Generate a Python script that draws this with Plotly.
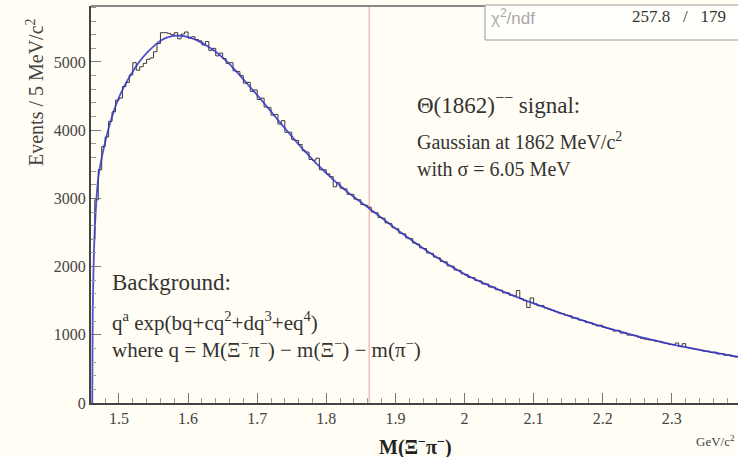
import plotly.graph_objects as go

# ---------------- data ----------------
HIST_LO = 1.46      # GeV/c^2, first bin edge
HIST_W = 0.005      # 5 MeV bins
HIST_COUNTS = [
    2400, 2980, 3420, 3760, 3900, 4130, 4270, 4440, 4470, 4640,
    4700, 4810, 4990, 4880, 4930, 4980, 5040, 5060, 5150, 5270,
    5430, 5430, 5420, 5400, 5430, 5340, 5410, 5440, 5350, 5370,
    5330, 5310, 5250, 5300, 5170, 5200, 5090, 5130, 5050, 4980,
    4990, 4870, 4860, 4800, 4690, 4700, 4570, 4590, 4450, 4470,
    4340, 4330, 4220, 4230, 4090, 4140, 3970, 3970, 3860, 3850,
    3790, 3700, 3680, 3570, 3560, 3590, 3420, 3420, 3360, 3320,
    3170, 3230, 3150, 3140, 3060, 3060, 2990, 2980, 2910, 2900,
    2870, 2800, 2790, 2720, 2710, 2640, 2630, 2570, 2555, 2490,
    2480, 2420, 2410, 2345, 2330, 2275, 2265, 2200, 2195, 2140,
    2130, 2075, 2070, 2010, 2005, 1950, 1945, 1895, 1885, 1840,
    1840, 1795, 1790, 1745, 1745, 1700, 1700, 1660, 1655, 1615,
    1615, 1580, 1570, 1650, 1530, 1500, 1400, 1540, 1455, 1425,
    1430, 1395, 1380, 1360, 1340, 1320, 1310, 1285, 1280, 1245,
    1245, 1215, 1210, 1180, 1175, 1150, 1130, 1140, 1110, 1095,
    1080, 1055, 1065, 1025, 1025, 995, 995, 985, 965, 945,
    935, 925, 925, 905, 900, 885, 875, 860, 855, 880,
    830, 870, 815, 805, 795, 785, 775, 760, 760, 740,
    745, 720, 725, 700, 705, 685, 675, 680, 660, 650,
]

FIT_X = [1.4613, 1.462, 1.463, 1.465] + [round(1.47 + 0.01 * i, 2) for i in range(95)]
FIT_Y = [
    0, 1300, 1900, 2550,
    3300, 3830, 4200, 4480, 4690, 4860, 5010, 5130, 5230, 5310,
    5360, 5385, 5385, 5365, 5330, 5280, 5220, 5150, 5065, 4970,
    4860, 4745, 4630, 4515, 4395, 4275, 4150, 4030, 3910, 3790,
    3680, 3570, 3470, 3370, 3275, 3185, 3100, 3020, 2945, 2868,
    2792, 2716, 2638, 2560, 2485, 2412, 2340, 2270, 2200, 2135,
    2070, 2008, 1948, 1890, 1840, 1792, 1746, 1702, 1660, 1618,
    1577, 1537, 1498, 1460, 1423, 1387, 1351, 1315, 1280, 1247,
    1214, 1182, 1151, 1120, 1091, 1063, 1035, 1007, 980, 955,
    930, 906, 883, 860, 839, 818, 798, 779, 760, 742,
    724, 706, 688, 670, 655,
]

SIGNAL_MASS = 1.862
CHI2 = "257.8"
NDF = "179"

# ---------------- figure ----------------
edges = [HIST_LO + HIST_W * i for i in range(len(HIST_COUNTS) + 1)]
step_y = HIST_COUNTS + [HIST_COUNTS[-1]]

SERIF = "Liberation Serif"
BG = "#fffdf4"

fig = go.Figure()
fig.add_trace(go.Scatter(
    x=edges, y=step_y, mode="lines", line=dict(shape="hv", color="#3a3a3a", width=1),
    hoverinfo="skip", showlegend=False))
fig.add_trace(go.Scatter(
    x=FIT_X, y=FIT_Y, mode="lines",
    line=dict(shape="spline", smoothing=0.6, color="rgba(50,50,200,0.85)", width=1.8),
    hoverinfo="skip", showlegend=False))

W, H = 738, 457
L, R, T, B = 91, 0, 6, 54
pw, ph = W - L - R, H - T - B

def px(x):
    return (x - L) / pw

def py(y):
    return (H - B - y) / ph

fig.update_layout(
    width=W, height=H, autosize=False,
    margin=dict(l=L, r=R, t=T, b=B, pad=0),
    paper_bgcolor=BG, plot_bgcolor=BG,
    font=dict(family=SERIF, color="#333"),
    xaxis=dict(
        range=[1.4595, 2.3958], showgrid=False, zeroline=False,
        showline=True, linecolor="#444", linewidth=2,
        ticks="inside", ticklen=10, tickwidth=1, tickcolor="#777",
        tick0=1.5, dtick=0.1,
        minor=dict(ticks="inside", ticklen=5, dtick=0.02, tickcolor="#999", tickwidth=1),
        tickfont=dict(family=SERIF, size=16, color="#444"),
    ),
    yaxis=dict(
        range=[0, 5821], showgrid=False, zeroline=False,
        showline=True, linecolor="#444", linewidth=2,
        ticks="inside", ticklen=10, tickwidth=1, tickcolor="#777",
        tick0=0, dtick=1000, tickformat="d",
        minor=dict(ticks="inside", ticklen=5, dtick=200, tickcolor="#999", tickwidth=1),
        tickfont=dict(family=SERIF, size=16, color="#444"),
    ),
)

shapes = [
    dict(type="line", xref="x", yref="paper", x0=SIGNAL_MASS, x1=SIGNAL_MASS, y0=0, y1=1,
         line=dict(color="#e8a0a0", width=1), layer="below"),
    dict(type="line", xref="paper", yref="paper", x0=0, x1=1.0, y0=1, y1=1,
         line=dict(color="#888", width=2)),
    dict(type="rect", xref="paper", yref="paper", x0=px(485), x1=px(745), y0=py(40), y1=py(5),
         fillcolor="#fffffb", line=dict(color="#999", width=1), layer="above"),
]
fig.update_layout(shapes=shapes)

ann = []
def txt(x, y, s, size, xanchor="left", color="#333", family=SERIF, angle=0):
    ann.append(dict(xref="paper", yref="paper", x=px(x), y=py(y), text=s, showarrow=False,
                    xanchor=xanchor, yanchor="middle", textangle=angle,
                    font=dict(family=family, size=size, color=color)))

txt(415, 104, "Θ(1862)<sup>−−</sup> signal:", 23)
txt(415, 141, "Gaussian at 1862 MeV/c<sup>2</sup>", 20)
txt(415, 169, "with σ = 6.05 MeV", 20)
txt(110, 282, "Background:", 23)
txt(110, 321, "q<sup>a</sup> exp(bq+cq<sup>2</sup>+dq<sup>3</sup>+eq<sup>4</sup>)", 21)
txt(110, 348, "where q = M(Ξ<sup>−</sup>π<sup>−</sup>) − m(Ξ<sup>−</sup>) − m(π<sup>−</sup>)", 21)

txt(489, 17, "χ<sup>2</sup>/ndf", 17, color="#aaa", family="Liberation Sans")
txt(728, 17, CHI2 + "   /   " + NDF, 17, xanchor="right", color="#333")

ann.append(dict(xref="paper", yref="paper", x=px(35), y=py(92), text="Events / 5 MeV/c<sup>2</sup>",
                showarrow=False, xanchor="center", yanchor="middle", textangle=-90,
                font=dict(family=SERIF, size=20, color="#444")))
txt(415, 446, "<b>M(Ξ<sup>−</sup>π<sup>−</sup>)</b>", 20, xanchor="center", color="#222")
txt(737, 441, "GeV/c<sup>2</sup>", 13, xanchor="right", color="#444")

fig.update_layout(annotations=ann)

fig.write_html("out.html")
